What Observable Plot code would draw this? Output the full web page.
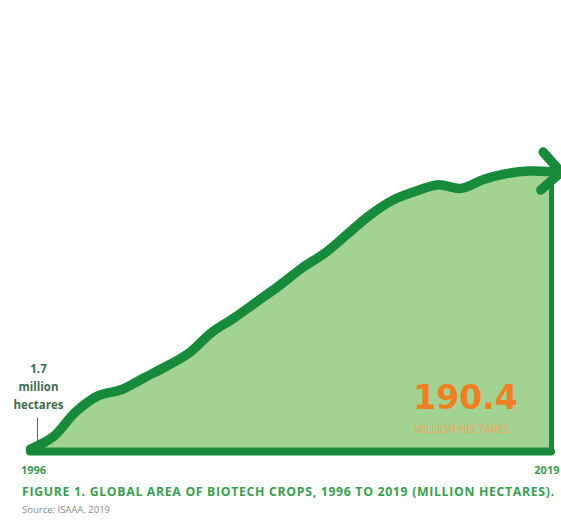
<!DOCTYPE html>
<html>
<head>
<meta charset="utf-8">
<script src="https://cdn.jsdelivr.net/npm/d3@7"></script>
<script src="https://cdn.jsdelivr.net/npm/@observablehq/plot@0.6"></script>
<style>
  html, body { margin: 0; padding: 0; background: #fff; }
  #wrap { width: 561px; height: 520px; position: relative; overflow: hidden; }
  #chart svg { display: block; }
  .title { position: absolute; left: 22px; top: 483px; line-height: 17px; font-family: "Open Sans", sans-serif; font-weight: 700; font-size: 12.3px; color: #36a04f; white-space: nowrap; letter-spacing: 0.67px; }
  .source { position: absolute; left: 22px; top: 503px; line-height: 14px; font-family: "Open Sans", sans-serif; font-size: 9.5px; color: #8c8c8c; white-space: nowrap; }
</style>
</head>
<body>
<div id="wrap">
  <div id="chart"></div>
  <div class="title" id="title"></div>
  <div class="source" id="source"></div>
</div>
<script>
// Data (million hectares of biotech crops)
const years = [1996, 1997, 1998, 1999, 2000, 2001, 2002, 2003, 2004, 2005, 2006, 2007,
               2008, 2009, 2010, 2011, 2012, 2013, 2014, 2015, 2016, 2017, 2018, 2019];
const hectares = [1.7, 10, 27, 38, 42, 50, 58, 67, 81, 91, 102, 113,
                  125, 135, 148, 161, 171, 177, 181.5, 179, 185, 189, 190.8, 190.4];
const startYear = 1996;
const endYear = 2019;
const startLabel = ["1.7", "million", "hectares"];
const endUnit = "MILLION HECTARES";
const titleText = "FIGURE 1. GLOBAL AREA OF BIOTECH CROPS, 1996 TO 2019 (MILLION HECTARES).";
const sourceText = "Source: ISAAA, 2019";

const data = years.map((year, i) => ({year, value: hectares[i]}));
const first = data[0];
const last = data[data.length - 1];

const lineColor = "#178a3c";
const fillColor = "#a2d393";
const orange = "#f07f22";
const yearStyle = {fill: "#3d9a52", fontWeight: 700, fontSize: 11, fontFamily: "Open Sans, sans-serif"};

const chart = Plot.plot({
  width: 561,
  height: 475,
  marginLeft: 30,
  marginRight: 10,
  marginTop: 157,
  marginBottom: 24,
  x: {domain: [startYear, endYear], axis: null},
  y: {domain: [0, 200], axis: null},
  style: {fontFamily: "Open Sans, sans-serif", background: "transparent", overflow: "visible"},
  marks: [
    Plot.areaY(data, {x: "year", y: "value", fill: fillColor, curve: "catmull-rom"}),
    Plot.ruleX([last], {x: "year", y1: 0, y2: "value", stroke: lineColor, strokeWidth: 5}),
    Plot.ruleY([0], {x1: startYear, x2: endYear, stroke: lineColor, strokeWidth: 8, strokeLinecap: "round"}),
    Plot.lineY(data, {x: "year", y: "value", stroke: lineColor, strokeWidth: 9.5, curve: "catmull-rom",
      strokeLinecap: "round", strokeLinejoin: "round", markerEnd: "arrow"}),
    // year labels
    Plot.text([startYear], {x: d => d, y: 0, dy: 19, dx: 3, text: d => String(d), ...yearStyle}),
    Plot.text([endYear], {x: d => d, y: 0, dy: 19, dx: 8, textAnchor: "end", text: d => String(d), ...yearStyle}),
    // 1.7 million hectares annotation
    Plot.ruleX([first], {x: "year", y1: d => d.value + 1.5, y2: d => d.value + 21, dx: 7,
      stroke: "#4d6e5a", strokeWidth: 1}),
    Plot.text([first], {x: "year", y: "value", dx: 8, dy: -40, lineAnchor: "bottom",
      text: () => startLabel.join("\n"), lineHeight: 1.55, fontSize: 11.5, fontWeight: 700,
      fill: "#3f6b50", fontFamily: "Open Sans, sans-serif"}),
    // 190.4 annotation
    Plot.text([last], {x: "year", y: 0, dx: -86, dy: -53, text: d => d.value.toFixed(1),
      fontSize: 33, fontWeight: 700, fill: orange, fontFamily: "DejaVu Sans, sans-serif"}),
    Plot.text([last], {x: "year", y: 0, dx: -90, dy: -22, text: () => endUnit,
      fontSize: 10.5, fill: "#f3a25a", fontFamily: "Open Sans, sans-serif",
      letterSpacing: 1.5})
  ]
});
document.getElementById("chart").appendChild(chart);
document.getElementById("title").textContent = titleText;
document.getElementById("source").textContent = sourceText;
</script>
</body>
</html>
